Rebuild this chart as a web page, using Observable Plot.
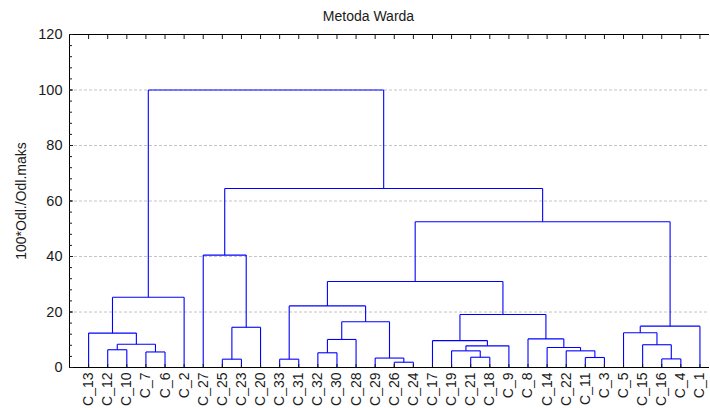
<!DOCTYPE html>
<html>
<head>
<meta charset="utf-8">
<script src="https://cdn.jsdelivr.net/npm/d3@7"></script>
<script src="https://cdn.jsdelivr.net/npm/@observablehq/plot@0.6"></script>
<style>
  html, body { margin: 0; padding: 0; background: #fff; overflow: hidden; }
</style>
</head>
<body>
<div id="chart"></div>
<script>
const title = "Metoda Warda";
const yLabel = "100*Odl./Odl.maks";
const leaves = ["C_13","C_12","C_10","C_7","C_6","C_2","C_27","C_25","C_23","C_20","C_33","C_31","C_32","C_30","C_28","C_29","C_26","C_24","C_17","C_19","C_21","C_18","C_9","C_8","C_14","C_22","C_11","C_3","C_5","C_15","C_16","C_4","C_1"];
// merge steps: joinA[i] + joinB[i] at joinHeight[i] -> node "G"+(i+1)
const joinA = ["C_12","C_7","G1","C_13","G4","C_25","G6","C_27","C_33","C_32","G10","C_26","C_29","G11","G9","C_21","C_19","G17","C_17","C_11","C_22","C_14","C_8","G19","G15","C_16","C_15","C_5","G28","G25","G8","G5"];
const joinB = ["C_10","C_6","G2","G3","C_2","C_23","C_20","G7","C_31","C_30","C_28","C_24","G12","G13","G14","C_18","G16","C_9","G18","C_3","G20","G21","G22","G23","G24","C_4","G26","G27","C_1","G29","G30","G31"];
const joinHeight = [6.4,5.6,8.4,12.4,25.3,3.0,14.5,40.5,3.0,5.3,10.1,1.9,3.4,16.5,22.2,3.7,6.0,7.8,9.7,3.6,6.0,7.2,10.3,19.1,31.0,3.1,8.2,12.5,14.9,52.5,64.5,100];
const yMajor = [0,20,40,60,80,100,120];
const yMinor = d3.range(0, 121, 4);
const gridVals = [20,40,60,80,100];

const nodes = new Map(leaves.map((n, i) => [n, {x: i, h: 0}]));
const segments = [];
joinA.forEach((na, i) => {
  const a = nodes.get(na), b = nodes.get(joinB[i]), h = joinHeight[i];
  segments.push({x1: a.x, y1: a.h, x2: a.x, y2: h});
  segments.push({x1: b.x, y1: b.h, x2: b.x, y2: h});
  segments.push({x1: a.x, y1: h, x2: b.x, y2: h});
  nodes.set("G" + (i + 1), {x: (a.x + b.x) / 2, h});
});
const leafIdx = d3.range(leaves.length);

const chart = Plot.plot({
  width: 710,
  height: 408,
  marginTop: 34,
  marginBottom: 41,
  marginLeft: 69,
  marginRight: 1,
  style: {fontFamily: "'Liberation Sans', Arial, sans-serif", fontSize: "14px", color: "#1a1a1a", background: "#fff"},
  x: {domain: [-1, 32.5]},
  y: {domain: [0, 120]},
  marks: [
    Plot.ruleY(gridVals, {stroke: "#c4c4c4", strokeDasharray: "3,2"}),
    Plot.link(segments, {x1: "x1", y1: "y1", x2: "x2", y2: "y2", stroke: "#0000ff", strokeWidth: 1.1}),
    Plot.ruleY([0, 120], {stroke: "#000"}),
    Plot.ruleX([-1], {stroke: "#000"}),
    Plot.axisY({ticks: yMinor, tickSize: -3, tickFormat: () => "", label: null}),
    Plot.axisY({ticks: yMajor, tickSize: -4, tickPadding: 11, label: null, fontSize: 14.5}),
    Plot.axisX({anchor: "top", ticks: leafIdx, tickSize: -4, tickFormat: () => "", label: null}),
    Plot.axisX({anchor: "bottom", ticks: leafIdx, tickSize: -3, tickPadding: 8, tickRotate: -90, tickFormat: i => leaves[i], label: null, fontSize: 14}),
    Plot.text([title], {text: d => d, frameAnchor: "top", dx: -21, dy: -18, lineAnchor: "middle", fontSize: 14}),
    Plot.text([yLabel], {text: d => d, frameAnchor: "left", rotate: -90, dx: -48, lineAnchor: "middle", textAnchor: "middle", fontSize: 14})
  ]
});
document.getElementById("chart").appendChild(chart);
</script>
</body>
</html>
